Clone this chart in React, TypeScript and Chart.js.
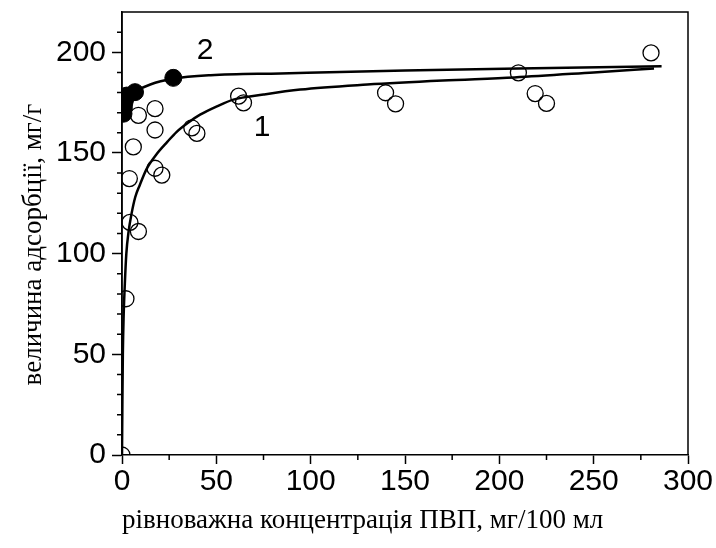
import React, { useEffect, useRef } from 'react';
import { Chart, registerables } from 'chart.js';

Chart.register(...registerables);

// Experimental points, series 1 (open circles)
const openX = [0, 2.1, 4.2, 8.7, 3.9, 6.0, 8.7, 17.5, 17.5, 17.5, 21.1, 37, 39.7, 61.8, 64.4, 139.7, 145, 210.1, 219, 225, 280.4];
const openY = [0, 77.6, 115.5, 111, 137.3, 153, 168.7, 172, 161.4, 142.4, 139, 162.5, 159.7, 178.2, 174.9, 179.9, 174.4, 189.8, 179.5, 174.6, 199.7];

// Experimental points, series 2 (filled circles)
const filledX = [0.8, 1.0, 1.3, 1.8, 2.5, 6.9, 27.2];
const filledY = [169.5, 172.5, 175, 177, 178.5, 180.2, 187.3];

// Fitted curve 1
const curve1X = [0, 0.2, 0.45, 0.9, 1.5, 2.3, 3.5, 5.1, 7, 9.4, 13, 18.4, 24, 29, 35, 41.4, 50, 59, 75, 94.5, 130, 170, 208, 250, 282];
const curve1Y = [0, 25, 50, 70, 85, 100, 111, 120, 128, 134, 142, 149.5, 155.5, 160.5, 165, 169, 173, 176.5, 179, 181.5, 184, 186, 187.5, 190, 192];

// Fitted curve 2
const curve2X = [0, 1, 3, 7, 15, 27, 47, 84, 150, 210, 286];
const curve2Y = [168, 173.5, 177.5, 180.5, 184, 186.8, 188.6, 189.5, 191, 192, 193];

// Curve labels
const labelText = ['1', '2'];
const labelX = [74.2, 44];
const labelY = [162.5, 201];

const xTitle = 'рівноважна концентрація ПВП, мг/100 мл';
const yTitle = 'величина адсорбції, мг/г';

const titleFont = '27px "Liberation Serif", "Times New Roman", serif';

const zip = (xs: number[], ys: number[]) => xs.map((x, i) => ({ x, y: ys[i] }));

const extrasPlugin = {
  id: 'extras',
  afterDraw(chart: any) {
    const { ctx, chartArea } = chart;
    const xs = chart.scales.x;
    const ys = chart.scales.y;
    ctx.save();
    ctx.strokeStyle = '#000';
    ctx.lineWidth = 1.5;
    // frame
    ctx.beginPath();
    ctx.moveTo(chartArea.left, chartArea.bottom);
    ctx.lineTo(chartArea.left, chartArea.top);
    ctx.lineTo(chartArea.right, chartArea.top);
    ctx.lineTo(chartArea.right, chartArea.bottom);
    ctx.stroke();
    // minor ticks
    ctx.beginPath();
    xs.ticks.forEach((t: any) => {
      if (t.value % 50 !== 0) {
        const px = xs.getPixelForValue(t.value);
        ctx.moveTo(px, chartArea.bottom);
        ctx.lineTo(px, chartArea.bottom + 5);
      }
    });
    ys.ticks.forEach((t: any) => {
      if (t.value % 50 !== 0 && t.value < ys.max) {
        const py = ys.getPixelForValue(t.value);
        ctx.moveTo(chartArea.left, py);
        ctx.lineTo(chartArea.left - 5, py);
      }
    });
    ctx.stroke();
    // curve labels
    ctx.fillStyle = '#000';
    ctx.font = '30px "Liberation Sans", Arial, sans-serif';
    ctx.textAlign = 'center';
    ctx.textBaseline = 'middle';
    labelText.forEach((t, i) => {
      ctx.fillText(t, xs.getPixelForValue(labelX[i]), ys.getPixelForValue(labelY[i]));
    });
    // y axis title (rotated)
    ctx.font = titleFont;
    ctx.translate(chartArea.left - 88, (chartArea.top + chartArea.bottom) / 2 + 11);
    ctx.rotate(-Math.PI / 2);
    ctx.fillText(yTitle, 0, 0);
    ctx.restore();
  },
};

export default function App() {
  const ref = useRef<HTMLCanvasElement>(null);
  useEffect(() => {
    if (!ref.current) return;
    const chart = new Chart(ref.current, {
      type: 'scatter',
      data: {
        datasets: [
          {
            data: zip(curve1X, curve1Y),
            showLine: true,
            borderColor: '#000',
            borderWidth: 2.5,
            pointRadius: 0,
            cubicInterpolationMode: 'monotone',
          },
          {
            data: zip(curve2X, curve2Y),
            showLine: true,
            borderColor: '#000',
            borderWidth: 2.5,
            pointRadius: 0,
            cubicInterpolationMode: 'monotone',
          },
          {
            data: zip(openX, openY),
            pointStyle: 'circle',
            pointRadius: 8,
            pointBorderWidth: 1.3,
            pointBorderColor: '#000',
            pointBackgroundColor: 'rgba(0,0,0,0)',
          },
          {
            data: zip(filledX, filledY),
            pointStyle: 'circle',
            pointRadius: 8.5,
            pointBorderWidth: 1,
            pointBorderColor: '#000',
            pointBackgroundColor: '#000',
          },
        ],
      } as any,
      options: {
        responsive: false,
        animation: false,
        devicePixelRatio: 1,
        layout: { padding: { top: 12, right: 28, left: 0, bottom: 0 } },
        plugins: {
          legend: { display: false },
          tooltip: { enabled: false },
        },
        scales: {
          x: {
            type: 'linear',
            min: 0,
            max: 300,
            afterFit: (s: any) => { s.height = 93; s.paddingLeft = 0; s.paddingRight = 0; },
            ticks: {
              stepSize: 25,
              autoSkip: false,
              maxRotation: 0,
              color: '#000',
              padding: 0,
              font: { family: '"Liberation Sans", Arial, sans-serif', size: 30 },
              callback: (v: any) => (Number(v) % 50 === 0 ? String(v) : ''),
            },
            grid: {
              drawOnChartArea: false,
              tickLength: 9,
              tickWidth: 1.5,
              tickColor: (c: any) => (c.tick && c.tick.value % 50 === 0 ? '#000' : 'rgba(0,0,0,0)'),
            },
            border: { color: '#000', width: 1.5 },
            title: {
              display: true,
              text: xTitle,
              color: '#000',
              align: 'start',
              padding: { top: 0, bottom: 11 },
              font: { family: '"Liberation Serif", "Times New Roman", serif', size: 27 },
            },
          },
          y: {
            type: 'linear',
            min: 0,
            max: 220,
            afterFit: (s: any) => { s.width = 122; s.paddingTop = 0; s.paddingBottom = 0; },
            ticks: {
              stepSize: 10,
              autoSkip: false,
              color: '#000',
              padding: 6,
              font: { family: '"Liberation Sans", Arial, sans-serif', size: 30 },
              callback: (v: any) => (Number(v) % 50 === 0 ? String(v) : ''),
            },
            grid: {
              drawOnChartArea: false,
              tickLength: 10,
              tickWidth: 1.5,
              tickColor: (c: any) => (c.tick && c.tick.value % 50 === 0 ? '#000' : 'rgba(0,0,0,0)'),
            },
            border: { color: '#000', width: 1.5 },
            title: { display: false },
          },
        },
      } as any,
      plugins: [extrasPlugin],
    });
    return () => chart.destroy();
  }, []);
  return (
    <div style={{ position: 'fixed', left: 0, top: 0, width: 716, height: 548, background: '#fff' }}>
      <canvas ref={ref} width={716} height={548} style={{ width: 716, height: 548 }} />
    </div>
  );
}
